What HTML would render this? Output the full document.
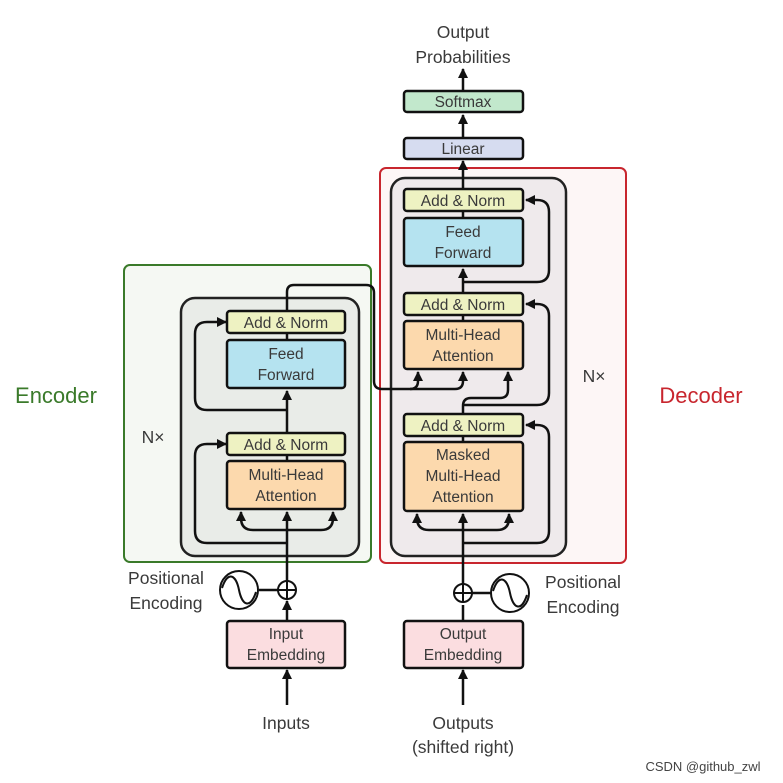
<!DOCTYPE html>
<html><head><meta charset="utf-8"><style>
html,body{margin:0;padding:0;background:#fff}
svg{display:block}
text{font-family:"Liberation Sans",sans-serif;fill:#3a3a3a;text-anchor:middle}
</style></head><body>
<svg width="783" height="783" viewBox="0 0 783 783" xmlns="http://www.w3.org/2000/svg">
<defs>
<marker id="a" viewBox="0 0 10 10" refX="9" refY="5" markerWidth="4" markerHeight="4" orient="auto"><path d="M0,0 L10,5 L0,10 z" fill="#111"/></marker>
</defs>
<rect x="124" y="265" width="247" height="297" rx="6" fill="#f5f8f3" stroke="#3a7a2a" stroke-width="2"/>
<rect x="380" y="168" width="246" height="395" rx="6" fill="#fdf6f6" stroke="#c8262e" stroke-width="2"/>
<rect x="181" y="298" width="178" height="258" rx="14" fill="#e9ece8" stroke="#222" stroke-width="2.5"/>
<rect x="391" y="178" width="175" height="378" rx="14" fill="#efeaec" stroke="#222" stroke-width="2.5"/>

<g fill="none" stroke="#111" stroke-width="2.5">
<path d="M287 705 V670" marker-end="url(#a)"/>
<path d="M287 620 V601" marker-end="url(#a)"/>
<path d="M287 581 V512" marker-end="url(#a)"/>
<path d="M287 530 H253 Q241 530 241 518 V512" marker-end="url(#a)"/>
<path d="M287 530 H321 Q333 530 333 518 V512" marker-end="url(#a)"/>
<path d="M287 543 H207 Q195 543 195 531 V456 Q195 444 207 444 H226" marker-end="url(#a)"/>
<path d="M287 455 V461"/>
<path d="M287 432 V391" marker-end="url(#a)"/>
<path d="M287 410 H207 Q195 410 195 398 V334 Q195 322 207 322 H226" marker-end="url(#a)"/>
<path d="M287 333 V340"/>
<path d="M287 311 V292 Q287 285 294 285 H366 Q374 285 374 293 V381 Q374 389 382 389 H410 Q418 389 418 381 V372" marker-end="url(#a)"/>
<path d="M410 389 H455 Q463 389 463 381 V372" marker-end="url(#a)"/>
<path d="M463 705 V670" marker-end="url(#a)"/>
<path d="M463 620 V605"/>
<path d="M463 584 V514" marker-end="url(#a)"/>
<path d="M463 530 H429 Q417 530 417 518 V514" marker-end="url(#a)"/>
<path d="M463 530 H497 Q509 530 509 518 V514" marker-end="url(#a)"/>
<path d="M463 543 H537 Q549 543 549 531 V437 Q549 425 537 425 H526" marker-end="url(#a)"/>
<path d="M463 436 V442"/>
<path d="M463 413 V406 Q463 398 471 398 H500 Q508 398 508 390 V372" marker-end="url(#a)"/>
<path d="M463 405 H537 Q549 405 549 393 V316 Q549 304 537 304 H526" marker-end="url(#a)"/>
<path d="M463 315 V321"/>
<path d="M463 292 V269" marker-end="url(#a)"/>
<path d="M463 282 H537 Q549 282 549 270 V212 Q549 200 537 200 H526" marker-end="url(#a)"/>
<path d="M463 211 V218"/>
<path d="M463 189 V161" marker-end="url(#a)"/>
<path d="M463 137 V115" marker-end="url(#a)"/>
<path d="M463 91 V69" marker-end="url(#a)"/>
<path d="M259 590 H278"/>
<path d="M472 593 H491"/>
</g>

<g stroke="#111" stroke-width="2.5">
<rect x="227" y="311" width="118" height="22" rx="3" fill="#eef2c2"/>
<rect x="227" y="340" width="118" height="48" rx="3" fill="#b5e3f0"/>
<rect x="227" y="433" width="118" height="22" rx="3" fill="#eef2c2"/>
<rect x="227" y="461" width="118" height="48" rx="3" fill="#fcd9ad"/>
<rect x="404" y="189" width="119" height="22" rx="3" fill="#eef2c2"/>
<rect x="404" y="218" width="119" height="48" rx="3" fill="#b5e3f0"/>
<rect x="404" y="293" width="119" height="22" rx="3" fill="#eef2c2"/>
<rect x="404" y="321" width="119" height="48" rx="3" fill="#fcd9ad"/>
<rect x="404" y="414" width="119" height="22" rx="3" fill="#eef2c2"/>
<rect x="404" y="442" width="119" height="69" rx="3" fill="#fcd9ad"/>
<rect x="404" y="138" width="119" height="21" rx="3" fill="#d6dcf0"/>
<rect x="404" y="91" width="119" height="21" rx="3" fill="#c2e8cc"/>
<rect x="227" y="621" width="118" height="47" rx="3" fill="#fbdde0"/>
<rect x="404" y="621" width="119" height="47" rx="3" fill="#fbdde0"/>
</g>
<g fill="#fff" stroke="#111" stroke-width="2">
<circle cx="287" cy="590" r="9"/><circle cx="463" cy="593" r="9"/>
<circle cx="239" cy="590" r="19"/><circle cx="510" cy="593" r="19"/>
</g>
<g fill="none" stroke="#111" stroke-width="2">
<path d="M287 581 V599 M278 590 H296 M463 584 V602 M454 593 H472"/>
<path d="M222 588 C228 570 236 575 239 590 C242 605 250 610 256 592"/>
<path d="M493 591 C499 573 507 578 510 593 C513 608 521 613 527 595"/>
</g>

<g font-size="15.5">
<text x="286" y="328">Add &amp; Norm</text>
<text x="286" y="359">Feed</text><text x="286" y="380">Forward</text>
<text x="286" y="450">Add &amp; Norm</text>
<text x="286" y="480">Multi-Head</text><text x="286" y="501">Attention</text>
<text x="463" y="206">Add &amp; Norm</text>
<text x="463" y="237">Feed</text><text x="463" y="258">Forward</text>
<text x="463" y="310">Add &amp; Norm</text>
<text x="463" y="340">Multi-Head</text><text x="463" y="361">Attention</text>
<text x="463" y="431">Add &amp; Norm</text>
<text x="463" y="460">Masked</text><text x="463" y="481">Multi-Head</text><text x="463" y="502">Attention</text>
<text x="463" y="154">Linear</text>
<text x="463" y="107">Softmax</text>
<text x="286" y="639">Input</text><text x="286" y="660">Embedding</text>
<text x="463" y="639">Output</text><text x="463" y="660">Embedding</text>
</g>
<g font-size="17.5">
<text x="463" y="38">Output</text><text x="463" y="63">Probabilities</text>
<text x="286" y="729">Inputs</text>
<text x="463" y="729">Outputs</text><text x="463" y="753">(shifted right)</text>
<text x="166" y="584">Positional</text><text x="166" y="609">Encoding</text>
<text x="583" y="588">Positional</text><text x="583" y="613">Encoding</text>
<text x="153" y="443">N×</text>
<text x="594" y="382">N×</text>
</g>
<text x="56" y="403" font-size="22" style="fill:#3a7a2a">Encoder</text>
<text x="701" y="403" font-size="22" style="fill:#c8262e">Decoder</text>
<text x="703" y="771" font-size="13" style="fill:#444">CSDN @github_zwl</text>
</svg>
</body></html>
